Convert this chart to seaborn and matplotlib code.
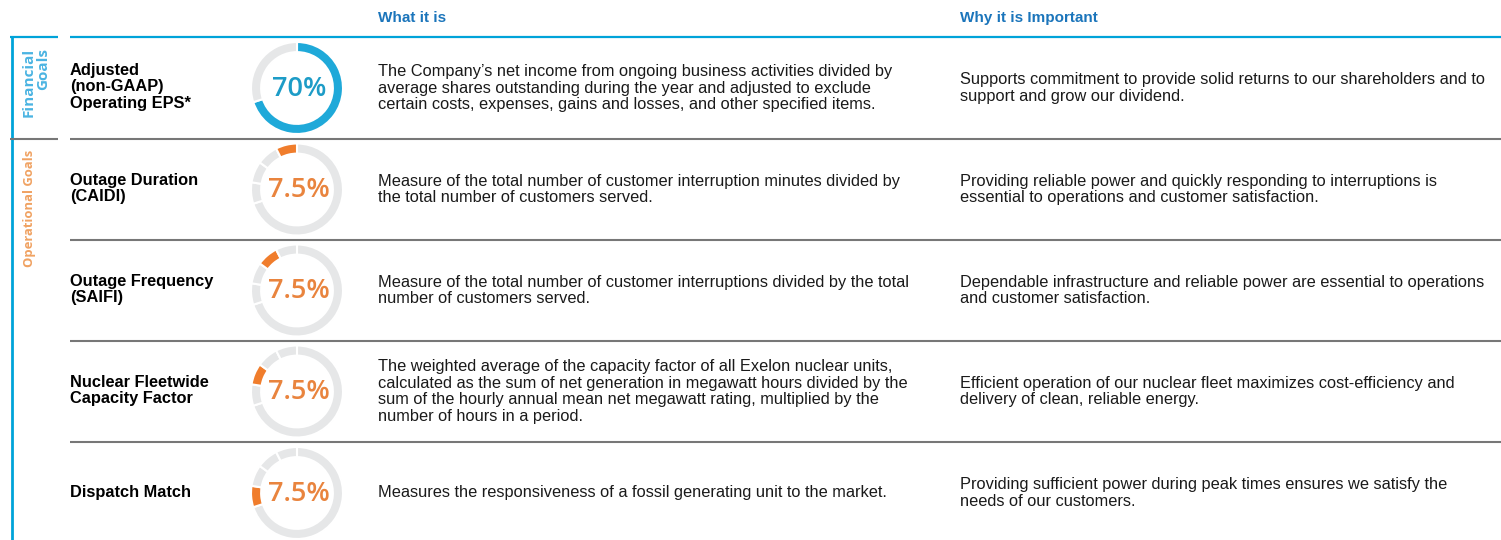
import matplotlib
import numpy as np

matplotlib.use("Agg")
import matplotlib.pyplot as plt
import seaborn as sns

sns.set_theme(style="white")
plt.rcParams["font.family"] = ["Liberation Sans", "DejaVu Sans"]


# Data
metrics = [
    "Adjusted\n(non-GAAP)\nOperating EPS*",
    "Outage Duration\n(CAIDI)",
    "Outage Frequency\n(SAIFI)",
    "Nuclear Fleetwide\nCapacity Factor",
    "Dispatch Match",
]
weights = [70, 7.5, 7.5, 7.5, 7.5]
goal_type = ["Financial", "Operational", "Operational", "Operational", "Operational"]
what_it_is = [
    "The Company\u2019s net income from ongoing business activities divided by\n"
    "average shares outstanding during the year and adjusted to exclude\n"
    "certain costs, expenses, gains and losses, and other specified items.",
    "Measure of the total number of customer interruption minutes divided by\n"
    "the total number of customers served.",
    "Measure of the total number of customer interruptions divided by the total\n"
    "number of customers served.",
    "The weighted average of the capacity factor of all Exelon nuclear units,\n"
    "calculated as the sum of net generation in megawatt hours divided by the\n"
    "sum of the hourly annual mean net megawatt rating, multiplied by the\n"
    "number of hours in a period.",
    "Measures the responsiveness of a fossil generating unit to the market.",
]
why_important = [
    "Supports commitment to provide solid returns to our shareholders and to\n"
    "support and grow our dividend.",
    "Providing reliable power and quickly responding to interruptions is\n"
    "essential to operations and customer satisfaction.",
    "Dependable infrastructure and reliable power are essential to operations\n"
    "and customer satisfaction.",
    "Efficient operation of our nuclear fleet maximizes cost-efficiency and\n"
    "delivery of clean, reliable energy.",
    "Providing sufficient power during peak times ensures we satisfy the\n"
    "needs of our customers.",
]
headers = ["What it is", "Why it is Important"]
group_labels = ["Financial\nGoals", "Operational Goals"]


# Styling
W, H = 1501, 540
CYAN = "#00a3d9"
HEADER_BLUE = "#1b75bb"
LINE_GRAY = "#777777"
RING_GRAY = "#e6e7e8"
TEXT = "#1a1a1a"
HIGHLIGHT = {"Financial": "#1fa9d9", "Operational": "#f07d2c"}
PCT_COLOR = {"Financial": "#1d9cc7", "Operational": "#e9843e"}
GROUP_COLOR = {"Financial": "#4bb4e2", "Operational": "#f0a262"}

separators = [37, 139, 240, 341, 442, 544]
row_centers = [(a + b) / 2 for a, b in zip(separators[:-1], separators[1:])]

fig = plt.figure(figsize=(W / 100, H / 100), dpi=100)
ax = fig.add_axes([0, 0, 1, 1])
ax.set_xlim(0, W)
ax.set_ylim(H, 0)
ax.axis("off")

# header
ax.text(378, 18, headers[0], color=HEADER_BLUE, fontsize=11, fontweight="bold", va="center")
ax.text(960, 18, headers[1], color=HEADER_BLUE, fontsize=11, fontweight="bold", va="center")
ax.hlines(37, 70, W, color=CYAN, linewidth=1.6)
ax.hlines(37, 10, 58, color=CYAN, linewidth=1.6)
ax.vlines(12, 37, H, color=CYAN, linewidth=2)

# row separators
for y in separators[1:-1]:
    ax.hlines(y, 70, W, color=LINE_GRAY, linewidth=1.5)
ax.hlines(separators[1], 10, 58, color=LINE_GRAY, linewidth=1.5)

# group labels on the left
ax.text(36, 48, group_labels[0], rotation=90, color=GROUP_COLOR["Financial"],
        fontsize=11, fontweight="bold", family="Open Sans", ha="center", va="top",
        multialignment="right", linespacing=1.05)
ax.text(29, 150, group_labels[1], rotation=90, color=GROUP_COLOR["Operational"],
        fontsize=9.4, fontweight="bold", family="Open Sans", ha="center", va="top")

# rows
ring_order = [0, 4, 3, 2, 1]
for i, yc in enumerate(row_centers):
    ax.text(70, yc - 1, metrics[i], fontsize=11.8, fontweight="bold", color="black",
            va="center", linespacing=1.12)
    ax.text(378, yc, what_it_is[i], fontsize=11.8, color=TEXT, va="center", linespacing=1.12)
    ax.text(960, yc, why_important[i], fontsize=11.8, color=TEXT, va="center", linespacing=1.12)

    # donut
    cx, r = 297, 46
    dax = fig.add_axes([(cx - r) / W, 1 - (yc + r) / H, 2 * r / W, 2 * r / H])
    kind = goal_type[i]
    if kind == "Financial":
        vals = [weights[i], sum(weights) - weights[i]]
        cols = [HIGHLIGHT[kind], RING_GRAY]
    else:
        vals = [weights[j] for j in ring_order]
        cols = [HIGHLIGHT[kind] if j == i else RING_GRAY for j in ring_order]
    dax.pie(vals, colors=cols, startangle=90, counterclock=False, radius=1,
            wedgeprops=dict(width=0.22, edgecolor="white", linewidth=1.5))
    dax.set_xlim(-1, 1)
    dax.set_ylim(-1, 1)
    dax.set_aspect("equal")
    dax.text(0.04, -0.02, f"{weights[i]:g}%", ha="center", va="center",
             fontsize=19.5, fontweight="semibold", color=PCT_COLOR[kind], family="Open Sans")

fig.savefig("out.png", dpi=100)
